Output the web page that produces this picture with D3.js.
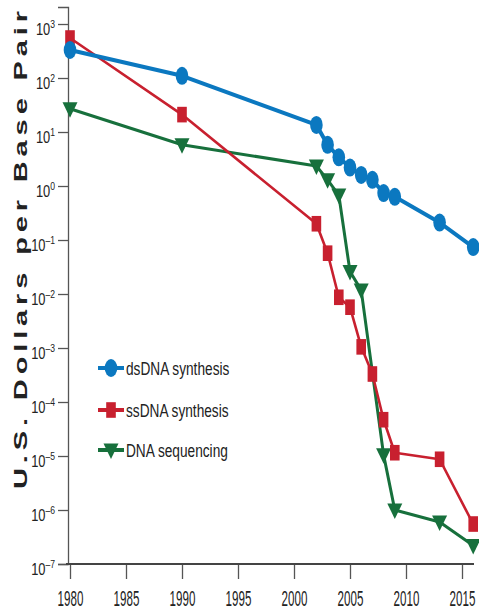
<!DOCTYPE html>
<html>
<head>
<meta charset="utf-8">
<script src="https://cdn.jsdelivr.net/npm/d3@7"></script>
<style>
  body { margin: 0; background: #fff; }
  svg text { font-family: "Liberation Sans", Arial, sans-serif; }
</style>
</head>
<body>
<svg id="chart" width="479" height="615"></svg>
<script>
// values
var dsYears = [1980, 1990, 2002, 2003, 2004, 2005, 2006, 2007, 2008, 2009, 2013, 2016];
var dsCost  = [330, 110, 13.5, 5.8, 3.4, 2.2, 1.6, 1.3, 0.74, 0.63, 0.21, 0.074];

var ssYears = [1980, 1990, 2002, 2003, 2004, 2005, 2006, 2007, 2008, 2009, 2013, 2016];
var ssCost  = [550, 21, 0.2, 0.057, 0.0087, 0.0057, 0.00105, 0.00033, 0.000047, 0.0000115, 0.0000087, 0.00000055];

var seqYears = [1980, 1990, 2002, 2003, 2004, 2005, 2006, 2008, 2009, 2013, 2016];
var seqCost  = [27, 5.8, 2.35, 1.3, 0.68, 0.026, 0.0118, 0.0000105, 0.000001, 0.0000006, 0.00000022];

var xTicks = [1980, 1985, 1990, 1995, 2000, 2005, 2010, 2015];
var yExponents = [3, 2, 1, 0, -1, -2, -3, -4, -5, -6, -7];

var seriesNames = ['dsDNA synthesis', 'ssDNA synthesis', 'DNA sequencing'];
var colors = ['#0b78c0', '#c8202f', '#17703c'];

var svg = d3.select('#chart');

var x = d3.scaleLinear().domain([1980, 2015]).range([70, 462]);
var y = d3.scaleLog().domain([1e-7, Math.pow(10, 3.315)]).range([564, 7]);

// the whole figure looks squeezed sideways, so the text is narrowed too
var ySx = 0.78, xSx = 0.54, legSx = 0.72;

// y axis
var yAxis = svg.append('g')
    .attr('transform', 'translate(68,0)')
    .call(d3.axisLeft(y).tickValues(yExponents.map(function (e) { return Math.pow(10, e); }))
        .tickSize(10).tickFormat(''));
yAxis.select('.domain').attr('stroke', '#555').attr('stroke-width', 1.3);
yAxis.selectAll('.tick line').attr('stroke', '#555').attr('stroke-width', 1.3);
yAxis.selectAll('.tick').each(function (d) {
    var e = Math.round(Math.log10(d));
    var t = d3.select(this).append('text')
        .attr('transform', 'scale(' + ySx + ',1)')
        .attr('x', -13 / ySx)
        .attr('y', 10)
        .attr('text-anchor', 'end')
        .attr('fill', '#222')
        .attr('font-size', 16.5);
    t.append('tspan').text('10');
    t.append('tspan').attr('dy', -7).attr('font-size', 11)
        .text(e < 0 ? '\u2013' + (-e) : String(e));
});

// x axis
var xAxis = svg.append('g')
    .attr('transform', 'translate(0,564)')
    .call(d3.axisBottom(x).tickValues(xTicks).tickSize(15).tickFormat(d3.format('d')));
xAxis.select('.domain').remove();
xAxis.selectAll('.tick line').attr('stroke', '#555').attr('stroke-width', 1.3);
xAxis.selectAll('.tick text')
    .attr('transform', 'scale(' + xSx + ',1)')
    .attr('y', 27)
    .attr('fill', '#222')
    .attr('font-size', 21.5);
svg.append('line')
    .attr('x1', 66).attr('x2', 474)
    .attr('y1', 564).attr('y2', 564)
    .attr('stroke', '#444').attr('stroke-width', 2.2);

svg.append('text')
    .attr('transform', 'translate(27,250) rotate(-90) scale(1,0.62)')
    .attr('text-anchor', 'middle')
    .attr('font-size', 29)
    .attr('font-weight', 'bold')
    .attr('fill', '#222')
    .attr('textLength', 478)
    .attr('lengthAdjust', 'spacing')
    .text('U.S. Dollars per Base Pair');

// marker painters
var markers = [
    function (g, c) { g.append('ellipse').attr('rx', 6.3).attr('ry', 9).attr('fill', c); },
    function (g, c) { g.append('rect').attr('x', -4.8).attr('y', -7.8).attr('width', 9.6).attr('height', 15.6).attr('fill', c); },
    function (g, c) { g.append('path').attr('d', 'M-7.5,-6.5L7.5,-6.5L0,9Z').attr('fill', c); }
];
var widths = [4, 2.6, 3];

var series = [
    { years: dsYears, cost: dsCost },
    { years: ssYears, cost: ssCost },
    { years: seqYears, cost: seqCost }
];

var line = d3.line()
    .x(function (d) { return x(d[0]); })
    .y(function (d) { return y(d[1]); });

// draw in order: green, red, blue
[2, 1, 0].forEach(function (i) {
    var pts = d3.zip(series[i].years, series[i].cost);
    var g = svg.append('g');
    g.append('path')
        .datum(pts)
        .attr('fill', 'none')
        .attr('stroke', colors[i])
        .attr('stroke-width', widths[i])
        .attr('stroke-linejoin', 'round')
        .attr('d', line);
    g.selectAll('g.pt')
        .data(pts)
        .enter()
        .append('g')
        .attr('class', 'pt')
        .attr('transform', function (d) { return 'translate(' + x(d[0]) + ',' + y(d[1]) + ')'; })
        .each(function () { markers[i](d3.select(this), colors[i]); });
});

// legend
var legendY = [368, 410, 450];
seriesNames.forEach(function (name, i) {
    var lg = svg.append('g').attr('transform', 'translate(111,' + legendY[i] + ')');
    lg.append('line')
        .attr('x1', -13).attr('x2', 13)
        .attr('stroke', colors[i]).attr('stroke-width', 4);
    markers[i](lg, colors[i]);
    lg.append('text')
        .attr('transform', 'scale(' + legSx + ',1)')
        .attr('x', 15 / legSx)
        .attr('y', 7)
        .attr('font-size', 19)
        .attr('fill', '#222')
        .text(name);
});
</script>
</body>
</html>
